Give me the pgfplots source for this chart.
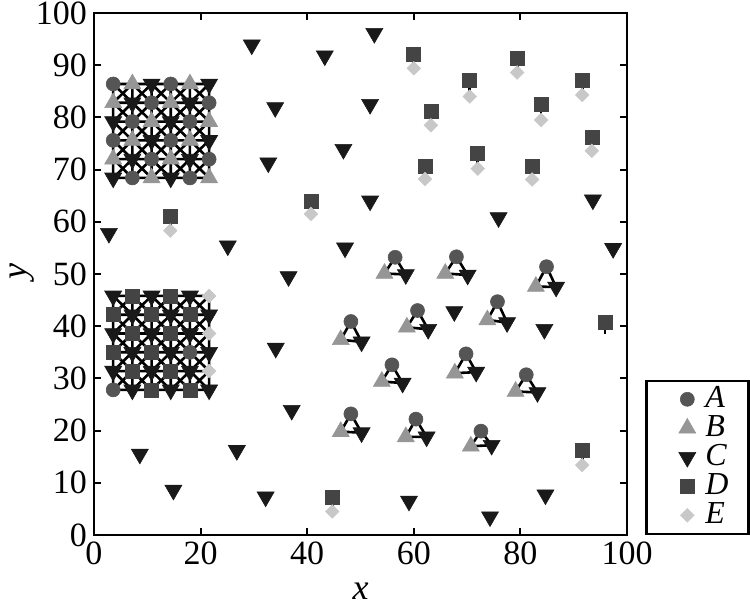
\documentclass[border=0pt]{standalone}
\usepackage{fontspec}
\setmainfont{Liberation Serif}
\usepackage{pgfplots}
\pgfplotsset{compat=1.18}
\usetikzlibrary{calc}
\definecolor{cA}{RGB}{85,85,85}
\definecolor{cB}{RGB}{150,150,150}
\definecolor{cC}{RGB}{25,25,25}
\definecolor{cD}{RGB}{68,68,68}
\definecolor{cE}{RGB}{200,200,200}
\begin{document}
\begin{tikzpicture}
\begin{axis}[
  name=ax,
  scale only axis, width=266.5pt, height=261pt,
  xmin=0, xmax=100, ymin=0, ymax=100,
  xtick={0,20,40,60,80,100}, ytick={0,10,20,30,40,50,60,70,80,90,100},
  xticklabels={0,20,40,60,80,100},
  yticklabels={0,10,20,30,40,50,60,70,80,90,100},
  tick pos=both, tick align=inside, major tick length=3.5pt,
  every tick/.style={black, line width=1pt},
  axis line style={line width=1.2pt},
  tick label style={font=\fontsize{17}{17}\selectfont},
  xlabel={\textit{x}}, ylabel={\textit{y}},
  label style={font=\fontsize{18}{18}\selectfont, inner sep=0pt},
  xlabel style={at={(axis description cs:0.5,-0.108)}, anchor=center},
  ylabel style={at={(axis description cs:-0.135,0.505)}, anchor=center},
  clip=false,
  legend style={at={(axis description cs:1.034,0)}, anchor=south west, draw=black, line width=1.2pt,
    font=\fontsize{16}{16}\selectfont\itshape, inner xsep=10pt, inner ysep=2pt,
    row sep=0pt, column sep=0pt,
    nodes={inner xsep=0pt, inner ysep=0pt, text height=11.5pt, text depth=3pt}},
  legend cell align=left,
  legend image code/.code={\path[draw=none,fill=none] (-10.5pt,0pt) -- (9pt,0pt); \draw[#1, line width=0.3pt] plot coordinates {(0pt,0pt)};},
]
% mesh of the upper cluster
\addplot[black, line width=1.3pt, forget plot, unbounded coords=jump] coordinates {
(3.6,68.4) (21.6,68.4) (nan,nan) (3.6,72.0) (21.6,72.0) (nan,nan)
(3.6,75.6) (21.6,75.6) (nan,nan) (3.6,79.2) (21.6,79.2) (nan,nan)
(3.6,82.8) (21.6,82.8) (nan,nan) (3.6,86.4) (21.6,86.4) (nan,nan)
(3.6,68.4) (3.6,86.4) (nan,nan) (7.2,68.4) (7.2,86.4) (nan,nan)
(10.8,68.4) (10.8,86.4) (nan,nan) (14.4,68.4) (14.4,86.4) (nan,nan)
(18.0,68.4) (18.0,86.4) (nan,nan) (21.6,68.4) (21.6,86.4) (nan,nan)
(3.6,68.4) (21.6,86.4) (nan,nan) (7.2,68.4) (21.6,82.8) (nan,nan)
(10.8,68.4) (21.6,79.2) (nan,nan) (14.4,68.4) (21.6,75.6) (nan,nan)
(18.0,68.4) (21.6,72.0) (nan,nan) (3.6,72.0) (18.0,86.4) (nan,nan)
(3.6,75.6) (14.4,86.4) (nan,nan) (3.6,79.2) (10.8,86.4) (nan,nan)
(3.6,82.8) (7.2,86.4) (nan,nan)
(3.6,72.0) (7.2,68.4) (nan,nan) (3.6,75.6) (10.8,68.4) (nan,nan)
(3.6,79.2) (14.4,68.4) (nan,nan) (3.6,82.8) (18.0,68.4) (nan,nan)
(3.6,86.4) (21.6,68.4) (nan,nan) (7.2,86.4) (21.6,72.0) (nan,nan)
(10.8,86.4) (21.6,75.6) (nan,nan) (14.4,86.4) (21.6,79.2) (nan,nan)
(18.0,86.4) (21.6,82.8)
};
% mesh of the lower cluster
\addplot[black, line width=1.3pt, forget plot, unbounded coords=jump] coordinates {
(3.6,27.8) (21.6,27.8) (nan,nan) (3.6,31.4) (21.6,31.4) (nan,nan)
(3.6,35.0) (21.6,35.0) (nan,nan) (3.6,38.6) (21.6,38.6) (nan,nan)
(3.6,42.2) (21.6,42.2) (nan,nan) (3.6,45.8) (21.6,45.8) (nan,nan)
(3.6,27.8) (3.6,45.8) (nan,nan) (7.2,27.8) (7.2,45.8) (nan,nan)
(10.8,27.8) (10.8,45.8) (nan,nan) (14.4,27.8) (14.4,45.8) (nan,nan)
(18.0,27.8) (18.0,45.8) (nan,nan) (21.6,27.8) (21.6,45.8) (nan,nan)
(3.6,27.8) (21.6,45.8) (nan,nan) (7.2,27.8) (21.6,42.2) (nan,nan)
(10.8,27.8) (21.6,38.6) (nan,nan) (14.4,27.8) (21.6,35.0) (nan,nan)
(18.0,27.8) (21.6,31.4) (nan,nan) (3.6,31.4) (18.0,45.8) (nan,nan)
(3.6,35.0) (14.4,45.8) (nan,nan) (3.6,38.6) (10.8,45.8) (nan,nan)
(3.6,42.2) (7.2,45.8) (nan,nan)
(3.6,31.4) (7.2,27.8) (nan,nan) (3.6,35.0) (10.8,27.8) (nan,nan)
(3.6,38.6) (14.4,27.8) (nan,nan) (3.6,42.2) (18.0,27.8) (nan,nan)
(3.6,45.8) (21.6,27.8) (nan,nan) (7.2,45.8) (21.6,31.4) (nan,nan)
(10.8,45.8) (21.6,35.0) (nan,nan) (14.4,45.8) (21.6,38.6) (nan,nan)
(18.0,45.8) (21.6,42.2)
};
% triangles A-B-C
\addplot[black, line width=1.3pt, forget plot, unbounded coords=jump] coordinates {
(56.5,53.2) (54.5,50.1) (58.5,49.9) (56.5,53.2) (nan,nan)
(68.0,53.3) (65.9,50.1) (70.1,49.8) (68.0,53.3) (nan,nan)
(84.9,51.4) (82.9,47.6) (86.7,47.5) (84.9,51.4) (nan,nan)
(48.2,40.9) (46.3,37.4) (50.2,37.0) (48.2,40.9) (nan,nan)
(60.7,43.0) (58.7,39.8) (62.7,39.4) (60.7,43.0) (nan,nan)
(75.7,44.7) (73.8,41.2) (77.5,40.7) (75.7,44.7) (nan,nan)
(55.9,32.6) (54.0,29.4) (57.9,29.1) (55.9,32.6) (nan,nan)
(69.8,34.7) (67.7,31.0) (71.7,31.2) (69.8,34.7) (nan,nan)
(81.1,30.7) (79.1,27.5) (83.2,27.3) (81.1,30.7) (nan,nan)
(48.2,23.2) (46.3,19.8) (50.2,19.6) (48.2,23.2) (nan,nan)
(60.4,22.2) (58.5,18.8) (62.4,18.8) (60.4,22.2) (nan,nan)
(72.6,19.9) (70.7,17.0) (74.6,17.2) (72.6,19.9)
};
% D-E links
\addplot[black, line width=1.3pt, forget plot, unbounded coords=jump] coordinates {
(60.0,92.0) (60.0,89.4) (nan,nan) (70.5,87.2) (70.5,84.0) (nan,nan)
(79.4,91.3) (79.4,88.6) (nan,nan) (91.6,87.2) (91.6,84.3) (nan,nan)
(63.2,81.2) (63.2,78.5) (nan,nan) (83.9,82.5) (83.9,79.5) (nan,nan)
(93.4,76.2) (93.4,73.6) (nan,nan) (72.0,73.2) (72.0,70.2) (nan,nan)
(62.1,70.6) (62.1,68.2) (nan,nan) (82.2,70.6) (82.2,68.1) (nan,nan)
(40.7,63.9) (40.7,61.5) (nan,nan) (14.3,61.1) (14.3,58.3) (nan,nan)
(44.7,7.3) (44.7,4.5) (nan,nan) (91.6,16.2) (91.6,13.4) (nan,nan)
(95.9,40.7) (95.9,38.6)
};
% A
\addplot[only marks, mark=*, mark size=3.5pt, mark options={draw=cA, fill=cA, line width=0.3pt}] coordinates {
(3.6,86.4) (14.4,86.4) (10.8,82.8) (21.6,82.8) (7.2,79.2) (18.0,79.2)
(3.6,75.6) (14.4,75.6) (10.8,72.0) (21.6,72.0) (7.2,68.4) (18.0,68.4)
(18.0,35.0) (3.6,27.8)
(56.5,53.2) (68.0,53.3) (84.9,51.4) (48.2,40.9) (60.7,43.0) (75.7,44.7)
(55.9,32.6) (69.8,34.7) (81.1,30.7) (48.2,23.2) (60.4,22.2) (72.6,19.9)
};
\addlegendentry{A}
% B
\addplot[only marks, mark=triangle*, mark size=4.9pt, mark options={draw=cB, fill=cB, line width=0.3pt}] coordinates {
(7.2,86.4) (18.0,86.4) (3.6,82.8) (14.4,82.8) (10.8,79.2) (21.6,79.2)
(7.2,75.6) (18.0,75.6) (3.6,72.0) (14.4,72.0) (10.8,68.4) (21.6,68.4)
(54.5,50.1) (65.9,50.1) (82.9,47.6) (46.3,37.4) (58.7,39.8) (73.8,41.2)
(54.0,29.4) (67.7,31.0) (79.1,27.5) (46.3,19.8) (58.5,18.8) (70.7,17.0)
};
\addlegendentry{B}
% C
\addplot[only marks, mark=triangle*, mark size=4.9pt, mark options={draw=cC, fill=cC, line width=0.3pt, rotate=180}] coordinates {
(10.8,86.4) (21.6,86.4) (7.2,82.8) (18.0,82.8) (3.6,79.2) (14.4,79.2)
(10.8,75.6) (21.6,75.6) (7.2,72.0) (18.0,72.0) (3.6,68.4) (14.4,68.4)
(3.6,45.8) (10.8,45.8) (18.0,45.8) (7.2,42.2) (14.4,42.2) (21.6,42.2)
(3.6,38.6) (10.8,38.6) (18.0,38.6) (7.2,35.0) (14.4,35.0) (21.6,35.0)
(3.6,31.4) (10.8,31.4) (18.0,31.4) (7.2,27.8) (14.4,27.8) (21.6,27.8)
(58.5,49.9) (70.1,49.8) (86.7,47.5) (50.2,37.0) (62.7,39.4) (77.5,40.7)
(57.9,29.1) (71.7,31.2) (83.2,27.3) (50.2,19.6) (62.4,18.8) (74.6,17.2)
(29.6,93.9) (52.6,96.1) (43.3,91.8) (34.0,81.9) (51.8,82.5) (46.8,73.9)
(32.7,71.3) (51.8,64.0) (75.9,60.8) (93.6,64.2) (47.1,55.0) (97.4,54.9)
(2.8,57.8) (25.1,55.4) (36.5,49.5) (34.1,35.8) (67.6,42.8) (84.5,39.4)
(37.1,23.9) (8.6,15.5) (26.8,16.2) (14.9,8.6) (32.2,7.3) (59.1,6.5)
(74.3,3.5) (84.7,7.7)
};
\addlegendentry{C}
% D
\addplot[only marks, mark=square*, mark size=3.5pt, mark options={draw=cD, fill=cD, line width=0.3pt}] coordinates {
(7.2,45.8) (14.4,45.8) (3.6,42.2) (10.8,42.2) (18.0,42.2) (7.2,38.6)
(14.4,38.6) (3.6,35.0) (10.8,35.0) (7.2,31.4) (14.4,31.4) (10.8,27.8) (18.0,27.8)
(60.0,92.0) (70.5,87.2) (79.4,91.3) (91.6,87.2) (63.2,81.2) (83.9,82.5)
(93.4,76.2) (72.0,73.2) (62.1,70.6) (82.2,70.6) (40.7,63.9) (14.3,61.1)
(44.7,7.3) (91.6,16.2) (95.9,40.7)
};
\addlegendentry{D}
% E
\addplot[only marks, mark=square*, mark size=2.4pt, mark options={draw=cE, fill=cE, line width=0.3pt, rotate=45}] coordinates {
(21.6,45.8) (21.6,38.6) (21.6,31.4)
(60.0,89.4) (70.5,84.0) (79.4,88.6) (91.6,84.3) (63.2,78.5) (83.9,79.5)
(93.4,73.6) (72.0,70.2) (62.1,68.2) (82.2,68.1) (40.7,61.5) (14.3,58.3)
(44.7,4.5) (91.6,13.4)
};
\addlegendentry{E}
\end{axis}
\pgfresetboundingbox
\path ($(ax.south west)+(-47pt,-37pt)$) rectangle ($(ax.north east)+(61.5pt,6.5pt)$);
\end{tikzpicture}
\end{document}
